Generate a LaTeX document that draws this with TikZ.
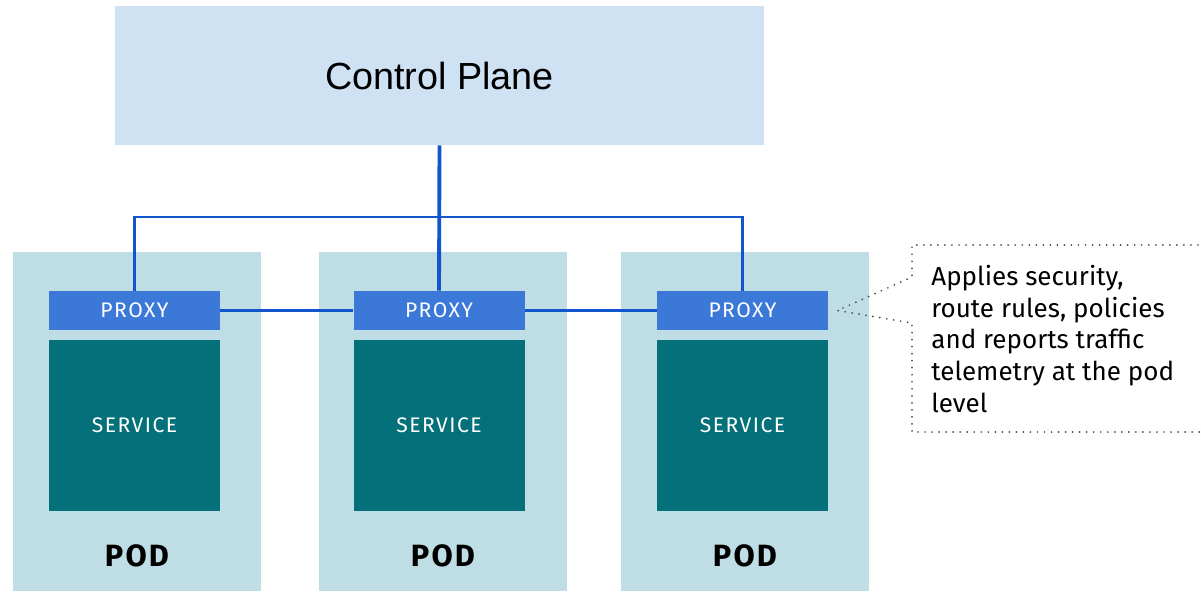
\documentclass[tikz,border=0pt]{standalone}
\usepackage{fontspec}
\setmainfont{Fira Sans}
\newfontfamily\arialfont{Liberation Sans}
\newfontfamily\capsfont[LetterSpace=7]{Fira Sans}
\usepackage{tikz}

\definecolor{planeblue}{HTML}{CFE2F3}
\definecolor{podblue}{HTML}{BFDDE4}
\definecolor{proxyblue}{HTML}{3C78D8}
\definecolor{serviceteal}{HTML}{04717A}
\definecolor{linkblue}{HTML}{1155CC}

\begin{document}
\begin{tikzpicture}[
	pod/.style={fill=podblue, minimum width=4.96cm, minimum height=6.78cm, inner sep=0},
	proxy/.style={fill=proxyblue, text=white, minimum width=3.42cm, minimum height=0.78cm, inner sep=0, font=\capsfont\fontsize{12}{14}\selectfont},
	service/.style={fill=serviceteal, text=white, minimum width=3.42cm, minimum height=3.42cm, inner sep=0, font=\capsfont\fontsize{12}{14}\selectfont},
	podlabel/.style={font=\capsfont\fontsize{17.5}{20}\selectfont\bfseries},
	link/.style={draw=linkblue, line width=1.35pt}
]
	\useasboundingbox (0,0) rectangle (24.02,-11.82);

	\node[fill=planeblue, minimum width=12.98cm, minimum height=2.78cm, inner sep=0, font=\arialfont\fontsize{21.5}{25}\selectfont] (plane) at (8.79,-1.51) {Control Plane};

	% pod 1
	\node[pod] (pod1) at (2.74,-8.43) {};
	\node[proxy] (p1) at (2.69,-6.21) {PROXY};
	\node[service] (s1) at (2.69,-8.51) {SERVICE};
	\node[podlabel] (l1) at (2.74,-11.12) {POD};
	% pod 2
	\node[pod] (pod2) at (8.86,-8.43) {};
	\node[proxy] (p2) at (8.78,-6.21) {PROXY};
	\node[service] (s2) at (8.78,-8.51) {SERVICE};
	\node[podlabel] (l2) at (8.86,-11.12) {POD};
	% pod 3
	\node[pod] (pod3) at (14.90,-8.43) {};
	\node[proxy] (p3) at (14.85,-6.21) {PROXY};
	\node[service] (s3) at (14.85,-8.51) {SERVICE};
	\node[podlabel] (l3) at (14.90,-11.12) {POD};

	% links
	\coordinate (bus) at (8.78,-4.34);
	\draw[link] (p1.north) |- (bus) -| (p3.north);
	\draw[draw=linkblue, line width=2.2pt] (plane.south) -- (p2.north);
	\draw[link] (p1) -- (p2);
	\draw[link] (p2) -- (p3);

	% note
	\node[anchor=base west, align=left, inner sep=0, font=\fontsize{14.8}{18.1}\selectfont] (note) at (18.62,-8.25) {Applies security,\\route rules, policies\\and reports traffic\\telemetry at the pod\\level};
	\coordinate (tip) at ([xshift=0.18cm]p3.east);
	\draw[gray!55!black, line width=1.1pt, line cap=round, dash pattern=on 0pt off 4pt]
		(24.10,-4.90) -- (18.24,-4.90) -- (18.24,-5.54) -- (tip) -- (18.24,-6.46) -- (18.24,-8.64) -- (24.10,-8.64);
\end{tikzpicture}
\end{document}
